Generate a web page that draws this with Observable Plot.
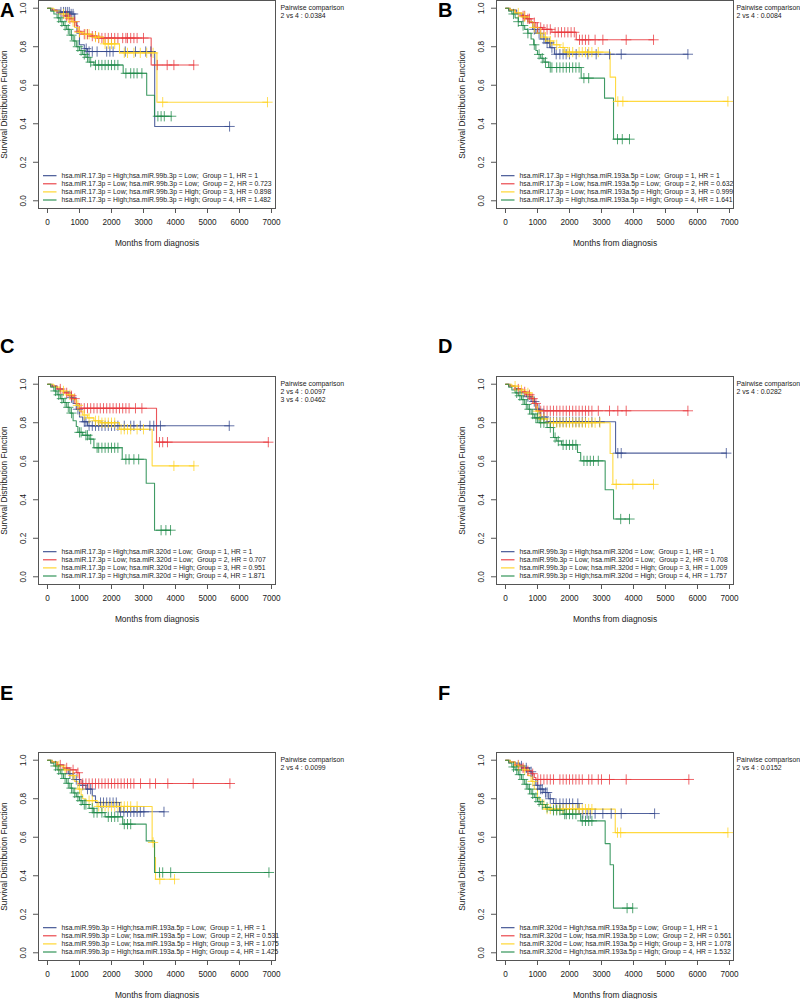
<!DOCTYPE html>
<html><head><meta charset="utf-8">
<script src="https://cdn.jsdelivr.net/npm/d3@7"></script>
<script src="https://cdn.jsdelivr.net/npm/@observablehq/plot@0.6"></script>
<style>
body{margin:0;background:#fff;}
#wrap{position:relative;width:800px;height:999px;overflow:hidden;background:#fff;}
.panel{position:absolute;}
.lab{position:absolute;font:bold 20px "Liberation Sans",Arial,sans-serif;line-height:1;color:#000;}
svg text{white-space:pre;}
</style></head><body><div id="wrap"></div>
<script>
// ---------- shared ----------
const groupColors = ["#34488c", "#e8373c", "#ffd21f", "#1f8a4a"];
const xTicks = [0, 1000, 2000, 3000, 4000, 5000, 6000, 7000];
const yTicks = [0, 0.2, 0.4, 0.6, 0.8, 1.0];
const xTitle = "Months from diagnosis";
const yTitle = "Survival Distribution Function";
const panelLetters = ["A", "B", "C", "D", "E", "F"];

// ---------- Panel A: miR.17.3p / miR.99b.3p ----------
const A1 = [[0,1],[150,0.99],[400,0.98],[700,0.97],[850,0.93],[920,0.87],[1000,0.81],[1150,0.79],[1250,0.775],[3350,0.386],[5690,0.386]];
const A1c = [420,500,560,620,680,740,800,1210,1300,1400,1550,1850,1950,2050,2430,2750,3070,3230,5690];
const A2 = [[0,1],[100,0.99],[300,0.975],[500,0.96],[650,0.945],[800,0.93],[900,0.91],[950,0.88],[1050,0.865],[1300,0.855],[1550,0.845],[3240,0.705],[4570,0.705]];
const A2c = [600,700,850,1000,1150,1250,1400,1500,1600,1700,1800,1900,2000,2100,2200,2350,2450,2500,2600,2700,2800,3000,3430,3740,3950,4570];
const A3 = [[0,1],[200,0.985],[400,0.97],[600,0.95],[750,0.93],[850,0.9],[950,0.875],[1100,0.865],[1400,0.85],[1750,0.815],[2250,0.768],[3420,0.512],[6875,0.512]];
const A3c = [500,650,800,1000,1200,1300,1500,1600,1800,1900,2000,2100,2400,2500,2700,2900,3100,3300,3600,6875];
const A4 = [[0,1],[100,0.985],[200,0.97],[300,0.95],[400,0.93],[500,0.91],[600,0.89],[700,0.86],[800,0.83],[900,0.8],[1000,0.78],[1100,0.76],[1200,0.745],[1300,0.72],[1450,0.705],[2365,0.662],[3100,0.548],[3344,0.439],[3865,0.439]];
const A4c = [350,450,550,650,750,850,950,1050,1150,1250,1350,1500,1600,1700,1800,1900,2000,2100,2200,2450,2600,2700,2800,2950,3450,3550,3650,3865];
const A_legend = [
  "hsa.miR.17.3p = High;hsa.miR.99b.3p = Low;  Group = 1, HR = 1",
  "hsa.miR.17.3p = Low; hsa.miR.99b.3p = Low;  Group = 2, HR = 0.723",
  "hsa.miR.17.3p = Low; hsa.miR.99b.3p = High; Group = 3, HR = 0.898",
  "hsa.miR.17.3p = High;hsa.miR.99b.3p = High; Group = 4, HR = 1.482"];
const A_pairwise = ["Pairwise comparison", "2 vs 4 : 0.0384"];

// ---------- Panel B: miR.17.3p / miR.193a.5p ----------
const B1 = [[0,1],[150,0.99],[350,0.97],[550,0.95],[700,0.93],[850,0.89],[950,0.87],[1100,0.84],[1250,0.82],[1400,0.795],[1530,0.761],[5700,0.761]];
const B1c = [900,1050,1200,1300,1375,1450,1584,1700,1800,1896,2000,2209,2574,2834,3251,3616,5700];
const B2 = [[0,1],[100,0.99],[300,0.975],[500,0.96],[650,0.945],[800,0.925],[950,0.9],[1150,0.89],[1450,0.875],[2210,0.836],[4626,0.836]];
const B2c = [550,600,700,750,900,1000,1100,1200,1300,1400,1550,1650,1750,1850,1950,2050,2150,2313,2400,2500,2600,2800,3043,3772,4626];
const B3 = [[0,1],[150,0.99],[300,0.975],[500,0.955],[700,0.93],[850,0.9],[1000,0.87],[1150,0.85],[1300,0.83],[1500,0.81],[1700,0.796],[1850,0.772],[3270,0.642],[3440,0.516],[6950,0.516]];
const B3c = [400,600,900,1100,1250,1400,1600,1800,1950,2000,2100,2300,2400,2500,2600,2700,2900,3510,3668,6950];
const B4 = [[0,1],[100,0.985],[200,0.97],[300,0.95],[400,0.93],[500,0.91],[600,0.89],[700,0.87],[800,0.84],[880,0.81],[950,0.78],[1000,0.76],[1100,0.74],[1200,0.72],[1350,0.692],[2365,0.637],[3095,0.533],[3376,0.32],[3875,0.32]];
const B4c = [250,400,550,700,900,1050,1150,1250,1400,1450,1600,1700,1800,1900,2000,2100,2200,2300,2450,2600,3500,3650,3875];
const B_legend = [
  "hsa.miR.17.3p = High;hsa.miR.193a.5p = Low;  Group = 1, HR = 1",
  "hsa.miR.17.3p = Low; hsa.miR.193a.5p = Low;  Group = 2, HR = 0.632",
  "hsa.miR.17.3p = Low; hsa.miR.193a.5p = High; Group = 3, HR = 0.999",
  "hsa.miR.17.3p = High;hsa.miR.193a.5p = High; Group = 4, HR = 1.641"];
const B_pairwise = ["Pairwise comparison", "2 vs 4 : 0.0084"];

// ---------- Panel C: miR.17.3p / miR.320d ----------
const C1 = [[0,1],[150,0.99],[300,0.975],[500,0.96],[700,0.93],[800,0.9],[900,0.87],[1000,0.83],[1100,0.805],[1250,0.784],[5680,0.784]];
const C1c = [750,950,1150,1200,1300,1400,1500,1600,1700,1800,1900,2000,2100,2200,2400,2600,2700,2900,3200,3320,3530,5680];
const C2 = [[0,1],[100,0.99],[300,0.975],[500,0.955],[650,0.94],[800,0.925],[900,0.9],[1000,0.875],[3407,0.699],[6900,0.699]];
const C2c = [400,600,750,850,1050,1150,1250,1350,1450,1550,1650,1750,1850,1950,2050,2150,2250,2350,2450,2550,2750,2950,3500,3600,3750,6900];
const C3 = [[0,1],[200,0.985],[400,0.965],[600,0.945],[800,0.92],[900,0.89],[1000,0.86],[1100,0.84],[1250,0.825],[1450,0.81],[1650,0.8],[2250,0.766],[3270,0.576],[4575,0.576]];
const C3c = [500,700,950,1150,1300,1500,1600,1700,1800,1900,2000,2100,2300,2400,2500,2600,2800,3000,3950,4575];
const C4 = [[0,1],[100,0.985],[200,0.965],[300,0.945],[400,0.925],[500,0.905],[600,0.88],[700,0.85],[800,0.81],[900,0.78],[950,0.75],[1100,0.735],[1300,0.715],[1450,0.67],[2335,0.61],[3085,0.486],[3345,0.242],[3845,0.242]];
const C4c = [250,350,450,550,650,750,1000,1050,1200,1250,1350,1550,1600,1700,1800,1900,2000,2100,2200,2450,2550,2700,2850,3550,3700,3845];
const C_legend = [
  "hsa.miR.17.3p = High;hsa.miR.320d = Low;  Group = 1, HR = 1",
  "hsa.miR.17.3p = Low; hsa.miR.320d = Low;  Group = 2, HR = 0.707",
  "hsa.miR.17.3p = Low; hsa.miR.320d = High; Group = 3, HR = 0.951",
  "hsa.miR.17.3p = High;hsa.miR.320d = High; Group = 4, HR = 1.871"];
const C_pairwise = ["Pairwise comparison", "2 vs 4 : 0.0097", "3 vs 4 : 0.0462"];

// ---------- Panel D: miR.99b.3p / miR.320d ----------
const D1 = [[0,1],[150,0.99],[300,0.975],[500,0.955],[650,0.935],[800,0.91],[950,0.87],[1100,0.83],[1300,0.805],[3440,0.642],[6900,0.642]];
const D1c = [700,900,1050,1200,1400,1500,1600,1700,1800,1900,2000,2100,2200,2300,2400,2500,2700,2940,3510,3616,6900];
const D2 = [[0,1],[100,0.99],[300,0.975],[500,0.96],[650,0.945],[800,0.925],[900,0.9],[1000,0.875],[1050,0.862],[5700,0.862]];
const D2c = [400,600,750,850,950,1100,1200,1300,1400,1500,1600,1700,1800,1900,2000,2100,2200,2300,2400,2500,2600,2700,2900,3251,3510,3772,5700];
const D3 = [[0,1],[200,0.99],[400,0.97],[600,0.955],[800,0.935],[880,0.9],[950,0.86],[1050,0.82],[1300,0.8],[3270,0.64],[3355,0.48],[4625,0.48]];
const D3c = [300,500,700,1000,1100,1200,1400,1500,1600,1700,1800,1900,2000,2100,2200,2300,2400,2500,2600,2700,2800,2950,3460,3980,4625];
const D4 = [[0,1],[100,0.985],[200,0.97],[300,0.955],[400,0.94],[500,0.92],[600,0.895],[700,0.87],[800,0.845],[900,0.825],[1050,0.8],[1300,0.775],[1500,0.723],[1600,0.705],[1750,0.685],[2250,0.645],[2350,0.602],[3115,0.452],[3376,0.3],[3875,0.3]];
const D4c = [350,450,550,650,750,850,950,1000,1100,1200,1400,1550,1650,1800,1900,2000,2100,2200,2450,2550,2650,2750,2900,3600,3875];
const D_legend = [
  "hsa.miR.99b.3p = High;hsa.miR.320d = Low;  Group = 1, HR = 1",
  "hsa.miR.99b.3p = Low; hsa.miR.320d = Low;  Group = 2, HR = 0.708",
  "hsa.miR.99b.3p = Low; hsa.miR.320d = High; Group = 3, HR = 1.009",
  "hsa.miR.99b.3p = High;hsa.miR.320d = High; Group = 4, HR = 1.757"];
const D_pairwise = ["Pairwise comparison", "2 vs 4 : 0.0282"];

// ---------- Panel E: miR.99b.3p / miR.193a.5p ----------
const E1 = [[0,1],[150,0.99],[300,0.975],[500,0.955],[650,0.93],[800,0.9],[1000,0.87],[1200,0.85],[1400,0.815],[1500,0.78],[2250,0.732],[3640,0.732]];
const E1c = [700,900,1100,1250,1350,1657,1750,1850,1950,2050,2150,2282,2386,2500,2600,2700,2800,2900,3011,3640];
const E2 = [[0,1],[100,0.99],[300,0.975],[500,0.96],[700,0.95],[900,0.935],[1000,0.9],[1050,0.879],[5700,0.879]];
const E2c = [400,600,800,950,1100,1200,1300,1400,1500,1600,1700,1800,1900,2000,2100,2200,2300,2400,2500,2600,2700,2907,3200,3376,3760,4553,5700];
const E3 = [[0,1],[150,0.99],[300,0.97],[500,0.95],[700,0.92],[850,0.89],[950,0.85],[1050,0.82],[1100,0.8],[1200,0.79],[1550,0.76],[3270,0.573],[3345,0.495],[3375,0.382],[3970,0.382]];
const E3c = [350,550,800,1000,1300,1400,1600,1700,1800,1900,2000,2100,2200,2300,2400,2500,2600,2800,3300,3510,3970];
const E4 = [[0,1],[100,0.985],[200,0.97],[300,0.95],[400,0.93],[500,0.905],[600,0.88],[700,0.855],[800,0.83],[900,0.81],[1000,0.79],[1100,0.77],[1300,0.75],[1450,0.728],[1800,0.706],[2350,0.668],[3085,0.581],[3345,0.417],[6920,0.417]];
const E4c = [250,350,450,550,650,750,850,950,1050,1150,1200,1400,1450,1550,1700,1900,2000,2100,2200,2400,2500,2600,3500,3600,3850,6920];
const E_legend = [
  "hsa.miR.99b.3p = High;hsa.miR.193a.5p = Low;  Group = 1, HR = 1",
  "hsa.miR.99b.3p = Low; hsa.miR.193a.5p = Low;  Group = 2, HR = 0.531",
  "hsa.miR.99b.3p = Low; hsa.miR.193a.5p = High; Group = 3, HR = 1.075",
  "hsa.miR.99b.3p = High;hsa.miR.193a.5p = High; Group = 4, HR = 1.425"];
const E_pairwise = ["Pairwise comparison", "2 vs 4 : 0.0099"];

// ---------- Panel F: miR.320d / miR.193a.5p ----------
const F1 = [[0,1],[150,0.99],[300,0.985],[450,0.97],[600,0.96],[750,0.94],[850,0.9],[950,0.87],[1050,0.85],[1200,0.832],[1350,0.8],[1500,0.775],[2300,0.723],[4660,0.723]];
const F1c = [500,650,800,1000,1100,1150,1250,1300,1400,1580,1700,1800,1900,2000,2100,2260,2417,2550,2650,2800,3043,3303,3616,4660];
const F2 = [[0,1],[100,0.99],[300,0.975],[500,0.96],[650,0.945],[800,0.93],[900,0.91],[950,0.9],[5730,0.9]];
const F2c = [400,550,700,850,1010,1100,1200,1300,1400,1500,1700,1800,1900,2000,2100,2200,2300,2400,2600,2700,2900,3000,3250,3772,5730];
const F3 = [[0,1],[150,0.99],[300,0.97],[500,0.95],[700,0.92],[800,0.89],[900,0.85],[1000,0.8],[1100,0.77],[1250,0.746],[3430,0.624],[6950,0.624]];
const F3c = [400,600,850,1200,1300,1400,1500,1600,1700,1800,1900,2000,2100,2200,2300,2400,2500,2600,2700,3500,3600,6950];
const F4 = [[0,1],[100,0.985],[200,0.965],[300,0.95],[400,0.925],[500,0.9],[600,0.875],[700,0.85],[800,0.825],[900,0.806],[1000,0.785],[1100,0.77],[1250,0.755],[1400,0.74],[1800,0.72],[2350,0.685],[3115,0.567],[3270,0.457],[3375,0.232],[3975,0.232]];
const F4c = [250,350,450,550,650,750,850,950,1050,1150,1300,1500,1600,1700,1850,1900,2000,2100,2200,2400,2500,2600,2700,3800,3975];
const F_legend = [
  "hsa.miR.320d = High;hsa.miR.193a.5p = Low;  Group = 1, HR = 1",
  "hsa.miR.320d = Low; hsa.miR.193a.5p = Low;  Group = 2, HR = 0.561",
  "hsa.miR.320d = Low; hsa.miR.193a.5p = High; Group = 3, HR = 1.078",
  "hsa.miR.320d = High;hsa.miR.193a.5p = High; Group = 4, HR = 1.532"];
const F_pairwise = ["Pairwise comparison", "2 vs 4 : 0.0152"];

// ---------- assemble ----------
const panels = [
  {steps: [A1, A2, A3, A4], cens: [A1c, A2c, A3c, A4c], legend: A_legend, pairwise: A_pairwise},
  {steps: [B1, B2, B3, B4], cens: [B1c, B2c, B3c, B4c], legend: B_legend, pairwise: B_pairwise},
  {steps: [C1, C2, C3, C4], cens: [C1c, C2c, C3c, C4c], legend: C_legend, pairwise: C_pairwise},
  {steps: [D1, D2, D3, D4], cens: [D1c, D2c, D3c, D4c], legend: D_legend, pairwise: D_pairwise},
  {steps: [E1, E2, E3, E4], cens: [E1c, E2c, E3c, E4c], legend: E_legend, pairwise: E_pairwise},
  {steps: [F1, F2, F3, F4], cens: [F1c, F2c, F3c, F4c], legend: F_legend, pairwise: F_pairwise}
];

function survAt(steps, t) {
  let s = 1;
  for (const [ti, si] of steps) { if (ti <= t) s = si; else break; }
  return s;
}

const FONT = "Liberation Sans, Arial, Helvetica, sans-serif";

function makePanel(p, col) {
  const marks = [
    Plot.frame({stroke: "#555", strokeWidth: 1}),
    Plot.axisX({ticks: xTicks, tickSize: 5, tickPadding: 5.5, tickFormat: d3.format("d"), label: null, fontSize: 8.2, stroke: "#555", fill: "#1a1a1a"}),
    Plot.axisY({ticks: yTicks, tickSize: 5, tickFormat: () => "", label: null, stroke: "#555"}),
    Plot.text(yTicks, {y: d => d, frameAnchor: "left", dx: -15.5, rotate: -90, textAnchor: "middle", lineAnchor: "middle", text: d => d.toFixed(1), fontSize: 8.2, fill: "#1a1a1a"}),
    Plot.text([xTitle], {frameAnchor: "bottom", dy: 35, textAnchor: "middle", lineAnchor: "middle", text: d => d, fontSize: 8.4, fill: "#1a1a1a"}),
    Plot.text([yTitle], {frameAnchor: "left", dx: -34, rotate: -90, textAnchor: "middle", lineAnchor: "middle", text: d => d, fontSize: 8.4, fill: "#1a1a1a"})
  ];
  p.steps.forEach((st, i) => {
    const pts = st.map(([t, s]) => ({t, s}));
    marks.push(Plot.line(pts, {x: "t", y: "s", curve: "step-after", stroke: groupColors[i], strokeWidth: 1.1, strokeOpacity: 0.85}));
  });
  p.cens.forEach((cs, i) => {
    const pts = cs.map(t => ({t, s: survAt(p.steps[i], t)}));
    marks.push(Plot.dot(pts, {x: "t", y: "s", symbol: "plus", r: 3.4, stroke: groupColors[i], strokeWidth: 0.9, strokeOpacity: 0.85}));
  });
  marks.push(Plot.text([p.pairwise.join("\n")], {frameAnchor: "top-right", dx: col === 0 ? 5 : 3, dy: 4.5, textAnchor: "start", lineAnchor: "top", fontSize: 6.9, lineHeight: 1.1, fill: "#1a1a1a", text: d => d}));
  marks.push((index, scales, values, dim) => {
    const g = d3.create("svg:g").attr("text-anchor", "start");
    const x0 = dim.marginLeft, yb = dim.height - dim.marginBottom;
    p.legend.forEach((txt, i) => {
      const y = yb - 32.3 + i * 8.1;
      g.append("line").attr("x1", x0 + 5).attr("x2", x0 + 18.5).attr("y1", y).attr("y2", y)
        .attr("stroke", groupColors[i]).attr("stroke-width", 1.1);
      g.append("text").attr("x", x0 + 23.5).attr("y", y).attr("dy", "0.34em").attr("text-anchor", "start")
        .attr("font-size", 6.8).attr("fill", "#1a1a1a").style("white-space", "pre").text(txt);
    });
    return g.node();
  });
  return Plot.plot({
    width: 342, height: 262,
    marginLeft: 38, marginRight: 67, marginTop: 8, marginBottom: 46,
    x: {domain: [-281, 7125]},
    y: {domain: [-0.04, 1.04]},
    style: {fontFamily: FONT, fontSize: "8px", color: "#555", background: "transparent", overflow: "visible"},
    marks
  });
}

const wrap = document.getElementById("wrap");
const colLeft = [0, 458];
const rowTop = [0, 376, 752];
const letterTop = [0, 336, 682.5];
panels.forEach((p, k) => {
  const col = k % 2, row = Math.floor(k / 2);
  const div = document.createElement("div");
  div.className = "panel";
  div.style.left = colLeft[col] + "px";
  div.style.top = (rowTop[row] - 8) + "px";
  div.appendChild(makePanel(p, col));
  wrap.appendChild(div);
  const lab = document.createElement("div");
  lab.className = "lab";
  lab.textContent = panelLetters[k];
  lab.style.left = (col === 0 ? 0 : 438) + "px";
  lab.style.top = letterTop[row] + "px";
  wrap.appendChild(lab);
});
</script></body></html>
